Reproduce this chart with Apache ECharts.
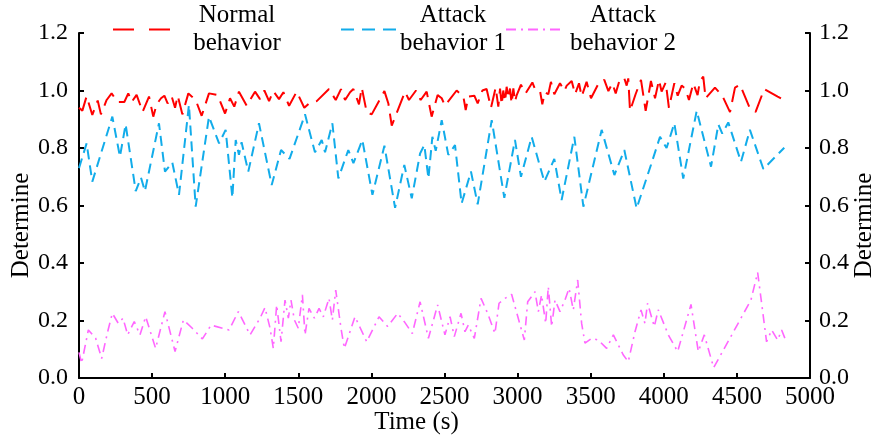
<!DOCTYPE html>
<html>
<head>
<meta charset="UTF-8">
<title>Determine</title>
<script src="https://cdn.jsdelivr.net/npm/echarts@6.0.0/dist/echarts.min.js"></script>
<style>
  html, body { margin: 0; padding: 0; background: #fff; }
  #chart { width: 871px; height: 435px; }
</style>
</head>
<body>
<div id="chart"></div>
<script>
// [time (s), determine]
var normalData = [
  [0,0.94],[23,0.93],[52,0.98],[91,0.915],[128,0.965],[150,0.917],[189,0.967],[223,0.99],[264,0.96],[310,0.96],
  [337,0.99],[360,0.96],[394,0.985],[435,0.926],[479,0.979],[508,0.909],[531,0.952],[561,0.973],[584,0.982],[606,0.955],
  [634,0.979],[657,0.94],[675,0.982],[707,0.917],[748,0.99],[771,0.979],[798,0.967],[839,0.912],[889,0.99],[948,0.984],
  [999,0.92],[1033,0.973],[1062,0.944],[1094,0.996],[1147,0.947],[1204,0.996],[1238,0.97],[1268,1.0],[1300,0.963],[1329,0.998],
  [1368,0.97],[1398,0.994],[1437,0.947],[1489,0.996],[1541,0.94],[1573,0.955],[1626,0.963],[1710,1.005],[1756,0.967],[1792,1.005],
  [1820,0.967],[1854,0.994],[1877,1.005],[1915,0.952],[1934,1.01],[1968,0.924],[2002,0.917],[2089,0.998],[2116,0.955],[2139,0.878],
  [2184,0.936],[2230,0.996],[2257,0.967],[2305,1.0],[2337,0.967],[2378,0.996],[2412,0.909],[2453,0.984],[2481,0.973],[2503,0.947],
  [2583,1.0],[2629,0.979],[2645,0.932],[2663,0.979],[2704,0.982],[2727,0.955],[2759,1.0],[2788,1.005],[2818,0.94],[2850,1.01],
  [2868,0.944],[2880,1.007],[2891,0.95],[2902,1.0],[2914,0.961],[2925,1.013],[2937,0.973],[2948,1.007],[2959,0.955],[2971,1.007],
  [2982,0.961],[2994,0.984],[3023,1.02],[3055,0.99],[3101,1.028],[3119,1.005],[3153,1.0],[3169,0.952],[3187,0.994],[3210,0.987],
  [3228,1.03],[3251,0.987],[3290,1.025],[3320,0.998],[3336,1.017],[3370,1.033],[3393,0.987],[3420,1.025],[3438,0.979],[3472,1.03],
  [3502,0.973],[3557,1.028],[3593,1.037],[3621,0.998],[3648,1.025],[3671,0.99],[3700,1.04],[3730,1.042],[3746,1.017],[3757,1.042],
  [3769,0.929],[3807,0.987],[3844,1.037],[3876,0.929],[3912,1.033],[3940,0.973],[3967,1.037],[3985,0.996],[4013,1.028],[4035,0.94],
  [4072,1.025],[4095,0.982],[4122,1.017],[4149,1.005],[4172,0.967],[4202,1.025],[4231,0.984],[4247,1.033],[4270,1.048],[4286,0.973],
  [4350,1.01],[4400,0.982],[4453,0.925],[4487,1.01],[4521,1.02],[4589,0.938],[4628,0.926],[4687,1.005],[4779,0.979],[4824,0.967]
];
var attack1Data = [
  [0,0.73],[52,0.816],[91,0.683],[228,0.909],[280,0.77],[319,0.882],[388,0.65],[424,0.697],[451,0.65],[547,0.886],
  [588,0.718],[638,0.75],[684,0.637],[752,0.95],[798,0.596],[889,0.909],[958,0.816],[1003,0.863],[1049,0.627],[1072,0.828],
  [1094,0.776],[1112,0.82],[1158,0.718],[1231,0.886],[1318,0.671],[1382,0.793],[1440,0.762],[1546,0.917],[1614,0.785],[1660,0.828],
  [1683,0.785],[1733,0.886],[1774,0.694],[1842,0.793],[1877,0.747],[1938,0.828],[2007,0.637],[2089,0.808],[2162,0.592],[2225,0.741],
  [2276,0.625],[2333,0.781],[2362,0.81],[2390,0.694],[2417,0.839],[2440,0.79],[2481,0.897],[2526,0.776],[2572,0.81],[2617,0.607],
  [2681,0.718],[2727,0.604],[2823,0.897],[2909,0.627],[2982,0.828],[3023,0.7],[3096,0.839],[3183,0.683],[3251,0.762],[3301,0.619],
  [3388,0.839],[3450,0.596],[3575,0.863],[3662,0.706],[3730,0.793],[3814,0.59],[3912,0.741],[3974,0.839],[4019,0.8],[4072,0.886],
  [4133,0.694],[4225,0.929],[4323,0.735],[4373,0.882],[4400,0.85],[4441,0.889],[4528,0.752],[4589,0.863],[4681,0.727],[4824,0.801]
];
var attack2Data = [
  [0,0.089],[18,0.051],[64,0.167],[114,0.138],[155,0.068],[196,0.161],[228,0.225],[269,0.19],[301,0.208],[333,0.15],
  [378,0.196],[417,0.15],[456,0.213],[524,0.103],[588,0.231],[657,0.092],[714,0.202],[775,0.173],[844,0.136],[903,0.184],
  [1026,0.167],[1090,0.231],[1170,0.15],[1238,0.208],[1272,0.245],[1307,0.173],[1329,0.103],[1352,0.254],[1382,0.126],[1409,0.271],
  [1432,0.208],[1450,0.271],[1473,0.202],[1500,0.173],[1528,0.289],[1546,0.15],[1573,0.242],[1610,0.208],[1642,0.242],[1671,0.213],
  [1710,0.277],[1733,0.202],[1756,0.306],[1792,0.173],[1815,0.103],[1888,0.213],[1968,0.126],[2052,0.213],[2111,0.179],[2180,0.225],
  [2225,0.196],[2280,0.155],[2333,0.265],[2390,0.138],[2453,0.254],[2503,0.15],[2538,0.213],[2567,0.144],[2613,0.225],[2640,0.161],
  [2663,0.184],[2704,0.138],[2750,0.277],[2795,0.225],[2845,0.155],[2873,0.26],[2914,0.277],[2959,0.291],[3046,0.132],[3069,0.265],
  [3119,0.3],[3142,0.231],[3164,0.289],[3192,0.19],[3210,0.318],[3233,0.179],[3256,0.271],[3290,0.231],[3324,0.271],[3352,0.312],
  [3381,0.237],[3411,0.341],[3438,0.19],[3461,0.121],[3507,0.138],[3552,0.132],[3609,0.103],[3655,0.15],[3723,0.08],[3757,0.057],
  [3803,0.161],[3844,0.237],[3871,0.19],[3889,0.26],[3935,0.179],[3962,0.237],[4031,0.15],[4095,0.092],[4186,0.256],[4236,0.092],
  [4277,0.15],[4341,0.036],[4596,0.271],[4642,0.367],[4703,0.126],[4738,0.167],[4779,0.132],[4806,0.167],[4833,0.132]
];
var seriesNames = ['Normal behavior', 'Attack behavior 1', 'Attack behavior 2'];

var FONT = 'Liberation Serif';
var FS = 25;
var chart = echarts.init(document.getElementById('chart'), null, { renderer: 'canvas' });

function legendFor(name, left, w, dash) {
  return {
    data: [name],
    left: left,
    top: 3,
    padding: 0,
    itemWidth: 57,
    itemHeight: 14,
    selectedMode: false,
    itemStyle: { opacity: 0 },
    lineStyle: { type: dash },
    formatter: function (n) {
      var i = n.indexOf(' ');
      return '{t|' + n.slice(0, i) + '}\n{t|' + n.slice(i + 1) + '}';
    },
    textStyle: {
      rich: { t: { width: w, align: 'center', fontSize: FS, lineHeight: 28, fontFamily: FONT, color: '#000' } }
    }
  };
}

function yAx(pos, gap, labelMargin) {
  return {
    type: 'value', position: pos, min: 0, max: 1.2, interval: 0.2,
    name: 'Determine', nameLocation: 'middle', nameGap: gap, nameRotate: 90, nameMoveOverlap: false,
    nameTextStyle: { fontFamily: FONT, fontSize: FS, color: '#000', padding: [0, 40, 0, 0] },
    axisLine: { show: true, lineStyle: { color: '#000', width: 2 } },
    axisTick: { show: true, inside: true, length: 5, lineStyle: { color: '#000', width: 2 } },
    axisLabel: { fontFamily: FONT, fontSize: 24, color: '#000', margin: labelMargin,
      formatter: function (v) { return v.toFixed(1); } },
    splitLine: { show: false }
  };
}

var option = {
  animation: false,
  backgroundColor: '#fff',
  grid: { left: 79, right: 61, top: 33, bottom: 57, containLabel: false, outerBoundsMode: 'none' },
  legend: [
    legendFor(seriesNames[0], 112, 124, [21, 15]),
    legendFor(seriesNames[1], 340, 100, [13, 8]),
    legendFor(seriesNames[2], 505, 110, [10, 5, 2, 5])
  ],
  xAxis: {
    type: 'value', min: 0, max: 5000, interval: 500,
    name: 'Time (s)', nameLocation: 'middle', nameGap: 32, nameMoveOverlap: false,
    nameTextStyle: { fontFamily: FONT, fontSize: FS, color: '#000', padding: [0, 56, 0, 0] },
    axisLine: { lineStyle: { color: '#000', width: 2 } },
    axisTick: { inside: true, length: 5, lineStyle: { color: '#000', width: 2 } },
    axisLabel: { fontFamily: FONT, fontSize: FS, color: '#000', margin: 7,
      formatter: function (v) { return String(v); } },
    splitLine: { show: false }
  },
  yAxis: [yAx('left', 45, 11), yAx('right', 42, 9)],
  series: [
    { name: seriesNames[0], type: 'line', data: normalData, showSymbol: false, symbol: 'none',
      color: '#ff0000', lineStyle: { color: '#ff0000', width: 2, type: [18, 8] } },
    { name: seriesNames[1], type: 'line', data: attack1Data, showSymbol: false, symbol: 'none',
      color: '#12acea', lineStyle: { color: '#12acea', width: 2, type: [10, 6] } },
    { name: seriesNames[2], type: 'line', data: attack2Data, showSymbol: false, symbol: 'none',
      color: '#ff66ff', lineStyle: { color: '#ff66ff', width: 1.6, type: [9, 5, 2, 5] } }
  ]
};
chart.setOption(option);
</script>
</body>
</html>
